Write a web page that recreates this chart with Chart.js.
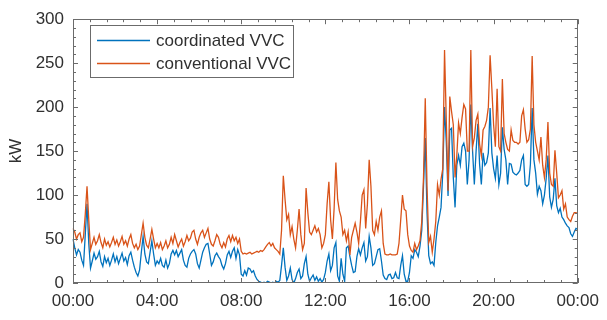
<!DOCTYPE html>
<html>
<head>
<meta charset="utf-8">
<script src="https://cdn.jsdelivr.net/npm/chart.js@4.4.1/dist/chart.umd.min.js"></script>
<style>
  html, body { margin: 0; padding: 0; background: #fff; }
  canvas { display: block; }
</style>
</head>
<body>
<canvas id="chart" width="607" height="320"></canvas>
<script>
// 5-minute samples, 00:00 .. 24:00 (kW)
const coordinated = [
  50, 40, 32, 38, 35, 26, 20, 55, 90, 45, 17, 25,
  34, 27, 30, 36, 24, 19, 30, 23, 28, 20, 26, 33,
  24, 30, 22, 28, 34, 25, 29, 21, 31, 35, 26, 18,
  12, 8, 15, 35, 53, 33, 24, 22, 35, 48, 33, 20,
  25, 22, 28, 20, 18, 26, 17, 22, 33, 37, 32, 37,
  30, 34, 38, 26, 20, 18, 28, 33, 36, 38, 33, 22,
  17, 26, 35, 40, 44, 45, 33, 20, 24, 31, 34, 30,
  27, 20, 16, 22, 32, 36, 29, 36, 40, 28, 38, 32,
  10, 8, 14, 9, 17, 16, 12, 14, 8, 4, 2, 1,
  0, 1, 0, 2, 1, 0, 1, 0, 2, 1, 3, 20,
  40, 18, 3, 8, 17, 4, 0, 5, 12, 16, 5, 8,
  22, 30, 10, 2, 6, 9, 3, 7, 2, 5, 1, 4,
  12, 25, 33, 14, 20, 40, 46, 8, 2, 28, 10, 2,
  40, 42, 30, 20, 12, 13, 30, 39, 32, 40, 46, 25,
  30, 53, 40, 20, 22, 30, 38, 39, 25, 9, 5, 4,
  9, 10, 5, 6, 12, 6, 5, 20, 31, 10, 2, 2,
  12, 31, 28, 38, 35, 30, 42, 60, 110, 165, 80, 31,
  22, 24, 20, 46, 65, 75, 86, 126, 200, 160, 99, 174,
  176, 120, 86, 134, 145, 134, 155, 159, 150, 112, 140, 203,
  150, 112, 150, 181, 135, 112, 148, 134, 137, 148, 199, 148,
  130, 119, 145, 112, 125, 177, 152, 140, 112, 136, 135, 126,
  124, 123, 125, 128, 140, 145, 112, 110, 112, 135, 199, 140,
  125, 101, 110, 105, 90, 100, 119, 145, 98, 86, 95, 119,
  88, 80, 85, 75, 72, 68, 65, 63, 56, 53, 58, 62, 61
];

const conventional = [
  62, 58, 50, 55, 57, 47, 52, 78, 110, 72, 38, 45,
  52, 44, 48, 55, 46, 40, 50, 43, 47, 41, 46, 52,
  44, 49, 42, 47, 53, 44, 48, 42, 50, 55, 45, 40,
  44, 38, 42, 55, 68, 52, 43, 40, 50, 61, 50, 40,
  45, 40, 46, 38, 42, 48, 40, 44, 52, 45, 55, 48,
  41, 46, 50, 42, 47, 54, 48, 51, 58, 60, 50, 44,
  52, 57, 60, 52, 57, 62, 50, 44, 42, 48, 55, 52,
  44, 40, 46, 41, 50, 54, 47, 54, 48, 52, 45, 50,
  36, 33, 34, 33, 34, 35, 33, 34, 35, 36, 35, 37,
  36, 38, 41, 44, 46, 42, 45, 40, 38, 36, 33, 60,
  122, 95, 72, 78, 55, 64, 50, 40, 60, 84, 55, 38,
  45, 108, 80, 58, 55, 60, 65, 58, 62, 55, 40, 45,
  55, 90, 115, 72, 50, 85, 137, 95, 82, 75, 55, 60,
  48, 58, 32, 52, 60, 68, 58, 45, 70, 100, 106, 62,
  90, 140, 110, 60, 55, 70, 60, 75, 82, 45, 33, 32,
  32, 33, 32, 32, 32, 33, 45, 72, 100, 84, 82, 55,
  42, 37, 35, 45, 38, 42, 48, 70, 120, 210, 110, 46,
  53, 35, 50, 70, 112, 100, 118, 130, 265, 185, 105, 212,
  195, 180, 120, 145, 182, 170, 188, 203, 198, 150, 150, 265,
  155, 165, 185, 192, 158, 145, 174, 178, 185, 200, 259, 221,
  180, 155, 221, 155, 150, 232, 170, 160, 152, 150, 174, 162,
  160, 160, 158, 160, 190, 197, 175, 160, 163, 175, 258, 180,
  160, 150, 140, 166, 134, 120, 140, 183, 125, 112, 110, 151,
  125, 97, 100, 105, 84, 90, 75, 72, 70, 76, 80, 80, 79
];

const seriesNames = ['coordinated VVC', 'conventional VVC'];
const tickLabels = ['00:00', '04:00', '08:00', '12:00', '16:00', '20:00', '00:00'];
const yTicks = [0, 50, 100, 150, 200, 250, 300];

// time of day for every sample
const times = coordinated.map((_, i) => {
  const m = i * 5;
  return String(Math.floor(m / 60) % 24).padStart(2, '0') + ':' + String(m % 60).padStart(2, '0');
});

const stepsPerMajor = (times.length - 1) / (tickLabels.length - 1);
const boxColor = '#6b6b6b';
const textColor = '#303030';
const fontFamily = '"Liberation Sans", Arial, Helvetica, sans-serif';

Chart.defaults.font.family = fontFamily;
Chart.defaults.font.size = 17;
Chart.defaults.color = textColor;

// MATLAB-like box with inward ticks on all four sides
const axesBox = {
  id: 'axesBox',
  afterDatasetsDraw(chart) {
    const { ctx, chartArea: a, scales: { x, y } } = chart;
    ctx.save();
    ctx.strokeStyle = boxColor;
    ctx.lineWidth = 1;
    ctx.beginPath();
    const minorX = stepsPerMajor / 5;
    for (let k = 0; k <= (tickLabels.length - 1) * 5; k++) {
      const px = Math.round(x.getPixelForValue(k * minorX)) + 0.5;
      const len = k % 5 === 0 ? 5 : 3;
      ctx.moveTo(px, a.bottom); ctx.lineTo(px, a.bottom - len);
      ctx.moveTo(px, a.top); ctx.lineTo(px, a.top + len);
    }
    for (let v = yTicks[0]; v <= yTicks[yTicks.length - 1]; v += 10) {
      const py = Math.round(y.getPixelForValue(v)) + 0.5;
      const len = v % 50 === 0 ? 5 : 3;
      ctx.moveTo(a.left, py); ctx.lineTo(a.left + len, py);
      ctx.moveTo(a.right, py); ctx.lineTo(a.right - len, py);
    }
    ctx.stroke();
    ctx.strokeRect(Math.round(a.left) + 0.5, Math.round(a.top) + 0.5,
      Math.round(a.width) - 1, Math.round(a.height) - 1);
    ctx.restore();
  }
};

// legend box in the upper left of the axes
const legendBox = {
  id: 'legendBox',
  afterDraw(chart) {
    const { ctx } = chart;
    const left = 90, top = 25, w = 203, h = 52;
    ctx.save();
    ctx.fillStyle = '#fff';
    ctx.fillRect(left, top, w, h);
    ctx.strokeStyle = boxColor;
    ctx.lineWidth = 1;
    ctx.strokeRect(left + 0.5, top + 0.5, w, h);
    ctx.font = '17px ' + fontFamily;
    ctx.textBaseline = 'middle';
    ctx.fillStyle = textColor;
    chart.data.datasets.forEach((ds, i) => {
      const yy = top + 15.5 + i * 23;
      ctx.strokeStyle = ds.borderColor;
      ctx.lineWidth = 1.4;
      ctx.beginPath();
      ctx.moveTo(97, yy);
      ctx.lineTo(150, yy);
      ctx.stroke();
      ctx.fillText(ds.label, 156, yy + 1);
    });
    ctx.restore();
  }
};

new Chart(document.getElementById('chart'), {
  type: 'line',
  data: {
    labels: times,
    datasets: [
      {
        label: seriesNames[0],
        data: coordinated,
        borderColor: '#0072BD',
        borderWidth: 1.3,
        pointRadius: 0,
        tension: 0,
        order: 1
      },
      {
        label: seriesNames[1],
        data: conventional,
        borderColor: '#D95319',
        borderWidth: 1.3,
        pointRadius: 0,
        tension: 0,
        order: 0
      }
    ]
  },
  options: {
    responsive: false,
    devicePixelRatio: 1,
    animation: false,
    events: [],
    layout: { padding: { top: 10, right: 23, left: 0, bottom: 0 } },
    plugins: {
      legend: { display: false },
      tooltip: { enabled: false }
    },
    scales: {
      x: {
        type: 'category',
        offset: false,
        grid: { display: false, drawTicks: false },
        border: { display: false },
        ticks: {
          autoSkip: false,
          maxRotation: 0,
          padding: 8,
          color: textColor,
          callback: (v, i) => (i % stepsPerMajor === 0 ? tickLabels[i / stepsPerMajor] : null)
        },
        afterFit: (scale) => { scale.height = 37; }
      },
      y: {
        min: 0,
        max: 300,
        grid: { display: false, drawTicks: false },
        border: { display: false },
        ticks: { stepSize: 50, padding: 9, color: textColor },
        title: { display: true, text: 'kW', color: textColor, font: { size: 17 }, padding: { top: 6, bottom: 0 } },
        afterFit: (scale) => { scale.width = 73; }
      }
    }
  },
  plugins: [axesBox, legendBox]
});
</script>
</body>
</html>
